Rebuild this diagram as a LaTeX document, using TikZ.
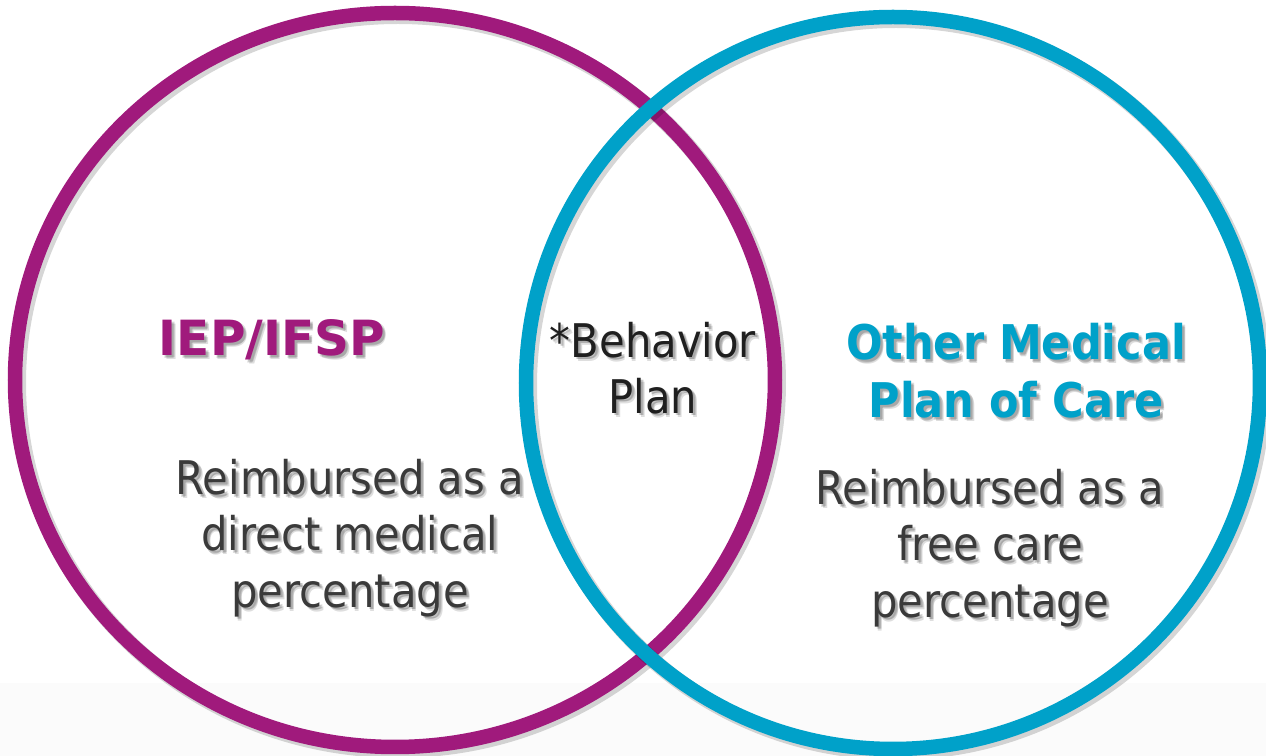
\documentclass[tikz,border=0pt]{standalone}
\usepackage{fontspec}
\setmainfont{DejaVu Sans Condensed}
\newfontfamily\headfont{DejaVu Sans Bold}
\newfontfamily\headcondfont{DejaVu Sans Condensed Bold}

\definecolor{iepPurple}{RGB}{160,26,124}
\definecolor{careBlue}{RGB}{0,161,201}
\definecolor{bodyGray}{RGB}{58,58,58}

% text with a soft grey copy behind it
\newcommand\shadowlabel[4]{%
	\foreach \dx/\dy in {0.02/-0.025, 0.035/-0.04, 0.03/-0.02}
		\node[#3, text=black, text opacity=0.13] at ([shift={(\dx,\dy)}]#2) {#4};
	\node[#3] (#1) at (#2) {#4};}

\begin{document}
\begin{tikzpicture}[
	ring/.style={line width=0.145cm},
	ringshadow/.style={line width=0.16cm, black, opacity=0.16},
	head/.style={font=\headfont\fontsize{13.8}{16.5}\selectfont, align=center, inner sep=0},
	headcond/.style={font=\headcondfont\fontsize{13.6}{16.5}\selectfont, align=center, inner sep=0},
	body/.style={font=\fontsize{13.2}{16}\selectfont, text=bodyGray, align=center, inner sep=0}]
	\useasboundingbox (0,0) rectangle (12.66,7.56);
	\fill[gray!3] (0,0) rectangle (12.66,0.73);

	% the two rings, blue one on top
	\draw[ringshadow] (3.98,3.73) ellipse [x radius=3.80, y radius=3.67];
	\draw[ring, iepPurple] (3.95,3.76) ellipse [x radius=3.80, y radius=3.67];
	\draw[ringshadow] (8.96,3.70) ellipse [x radius=3.67, y radius=3.66];
	\draw[ring, careBlue] (8.93,3.73) ellipse [x radius=3.67, y radius=3.66];

	\shadowlabel{iep}{2.72,4.16}{head, text=iepPurple}{IEP/IFSP}
	\shadowlabel{bp}{6.53,3.88}{body, text=black!88}{*Behavior\\Plan}
	\shadowlabel{other}{10.16,3.85}{headcond, text=careBlue}{Other Medical\\Plan of Care}
	\shadowlabel{direct}{3.50,2.18}{body}{Reimbursed as a\\direct medical\\percentage}
	\shadowlabel{free}{9.90,2.08}{body}{Reimbursed as a\\free care\\percentage}
\end{tikzpicture}
\end{document}
